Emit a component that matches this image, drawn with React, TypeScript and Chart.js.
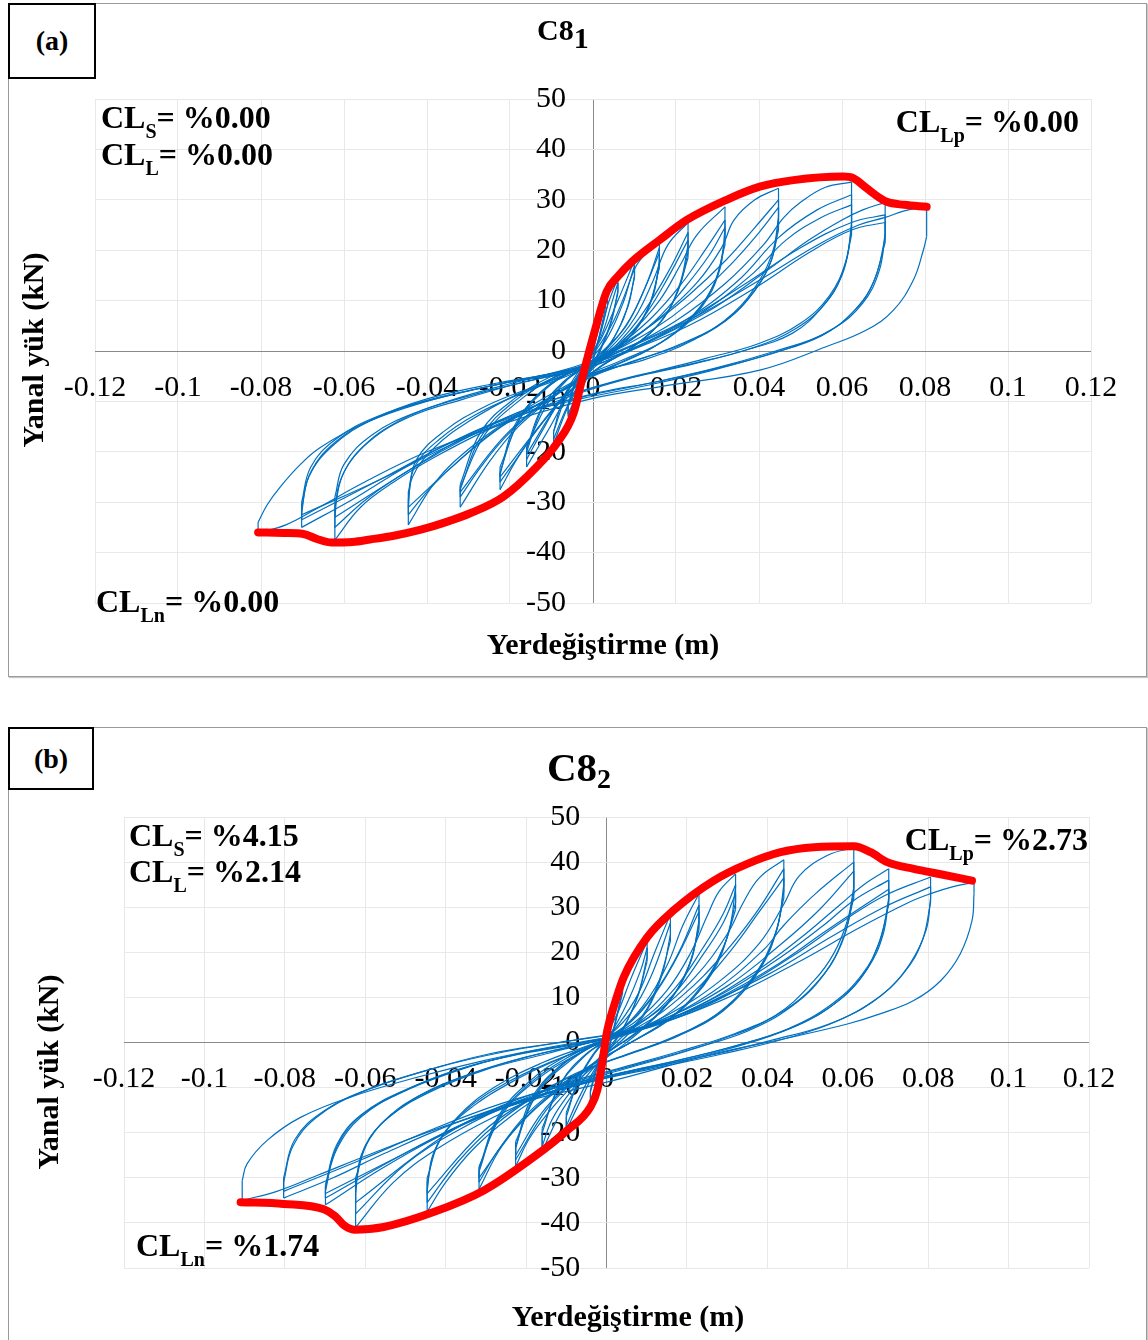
import React, { useEffect, useRef } from 'react';
import { Chart, registerables } from 'chart.js';

Chart.register(...registerables);

type P = [number, number];

// ---------- axis ticks ----------
const X_TICKS = [-0.12, -0.1, -0.08, -0.06, -0.04, -0.02, 0, 0.02, 0.04, 0.06, 0.08, 0.1, 0.12];
const X_TICK_LABELS = ['-0.12', '-0.1', '-0.08', '-0.06', '-0.04', '-0.02', '0', '0.02', '0.04', '0.06', '0.08', '0.1', '0.12'];
const Y_TICKS = [-50, -40, -30, -20, -10, 0, 10, 20, 30, 40, 50];
const Y_TICK_LABELS = ['-50', '-40', '-30', '-20', '-10', '0', '10', '20', '30', '40', '50'];

// ---------- texts ----------
const TITLE_A = ['C8', '1'];
const TITLE_B = ['C8', '2'];
const CL_SUBS = ['S', 'L', 'Lp', 'Ln'];
const CL_VALUES_A = ['%0.00', '%0.00', '%0.00', '%0.00'];
const CL_VALUES_B = ['%4.15', '%2.14', '%2.73', '%1.74'];
const X_TITLE = 'Yerdeğiştirme (m)';
const Y_TITLE = 'Yanal yük (kN)';
const PANEL_LABELS = ['(a)', '(b)'];

// ---------- panel (a) C8_1 ----------
const ENVELOPE_A: P[] = [
  [-0.0807, -36.0], [-0.0745, -36.1], [-0.0698, -36.3], [-0.0665, -37.3], [-0.063, -38.0], [-0.058, -37.9],
  [-0.0537, -37.4], [-0.0477, -36.6], [-0.0417, -35.5], [-0.0356, -34.0], [-0.0296, -32.2], [-0.0216, -28.9],
  [-0.0136, -23.0], [-0.0087, -18.3], [-0.0047, -12.4], [-0.0023, -4.4], [0.0005, 4.2], [0.0033, 11.8],
  [0.006, 14.8], [0.0095, 17.8], [0.016, 22.0], [0.0226, 26.0], [0.0322, 30.0], [0.0402, 32.6], [0.0483, 33.9],
  [0.0603, 34.6], [0.0627, 34.3], [0.0655, 32.6], [0.0675, 31.3], [0.0708, 29.6], [0.075, 29.0], [0.0804, 28.6],
];

const LOADING_A: P[][] = [
  [[0, 0], [0.0015, 5], [0.003, 10]],
  [[-0.003, -6.5], [-0.0015, -2.5], [0, 1], [0.0015, 5], [0.0035, 11]],
  [[-0.0035, -7.5], [-0.0015, -3], [0.001, 1.5], [0.0035, 9], [0.006, 14.5]],
  [[-0.006, -11], [-0.004, -6], [-0.0015, -2], [0.002, 3], [0.0045, 9.5], [0.006, 13.5]],
  [[-0.006, -10.5], [-0.004, -5.5], [-0.0015, -2], [0.002, 2.5], [0.006, 10], [0.01, 18]],
  [[-0.0095, -16], [-0.007, -9], [-0.003, -3.5], [0.001, 0.5], [0.005, 6], [0.0085, 13], [0.01, 17]],
  [[-0.0095, -16], [-0.006, -8], [-0.002, -3], [0.003, 2], [0.007, 9], [0.0105, 17], [0.016, 22]],
  [[-0.016, -20], [-0.012, -11], [-0.007, -6], [-0.002, -3], [0.004, 1], [0.009, 6.5], [0.013, 13.5], [0.016, 20.5]],
  [[-0.016, -19.5], [-0.0125, -11.5], [-0.0075, -6.5], [-0.0025, -3.5], [0.003, 0.5], [0.008, 5], [0.012, 11.5], [0.016, 19.5]],
  [[-0.016, -19], [-0.011, -10.5], [-0.006, -5.5], [-0.002, -3], [0.004, 0.5], [0.01, 6.5], [0.0145, 14], [0.018, 21], [0.0229, 25.5]],
  [[-0.0224, -24], [-0.018, -14], [-0.012, -8], [-0.005, -4], [0, -2.5], [0.006, 1.5], [0.012, 7.5], [0.018, 15.5], [0.0229, 23.5]],
  [[-0.0224, -24.5], [-0.019, -15], [-0.013, -8.5], [-0.006, -4.5], [0, -2.5], [0.006, 1], [0.012, 6.5], [0.017, 13], [0.0229, 22]],
  [[-0.0224, -23], [-0.017, -12.5], [-0.011, -7], [-0.004, -3.5], [0.002, -1], [0.009, 3.5], [0.016, 10], [0.021, 17], [0.025, 23], [0.0318, 28.6]],
  [[-0.032, -27.5], [-0.027, -17], [-0.019, -10], [-0.01, -5.5], [-0.002, -3], [0.006, 1], [0.014, 6.5], [0.021, 13], [0.027, 20], [0.0318, 26]],
  [[-0.032, -26.5], [-0.027, -16], [-0.019, -9.5], [-0.01, -5], [-0.002, -3], [0.007, 1], [0.015, 6], [0.022, 12.5], [0.028, 19], [0.0318, 24.5]],
  [[-0.032, -27], [-0.026, -16.5], [-0.018, -10], [-0.009, -5], [-0.002, -3], [0.007, 1], [0.016, 6.5], [0.025, 13.5], [0.031, 20.5], [0.034, 26], [0.039, 30], [0.0447, 32.3]],
  [[-0.0445, -31], [-0.0435, -25], [-0.038, -19], [-0.03, -14], [-0.018, -8.5], [-0.006, -4.5], [0.003, -0.5], [0.013, 4.5], [0.023, 11], [0.032, 18], [0.039, 24.5], [0.0447, 30]],
  [[-0.0445, -29.5], [-0.043, -23], [-0.037, -17.5], [-0.028, -12.5], [-0.016, -8], [-0.005, -4.5], [0.004, -0.5], [0.014, 4], [0.024, 10], [0.033, 17], [0.04, 23.5], [0.0447, 28.5]],
  [[-0.0445, -28], [-0.0425, -21.5], [-0.036, -16], [-0.026, -11], [-0.014, -7], [-0.003, -3.5], [0.008, 0.5], [0.02, 6], [0.032, 13.5], [0.041, 21], [0.046, 26.5], [0.05, 29.5], [0.056, 32.5], [0.0623, 33.5]],
  [[-0.0622, -33], [-0.061, -26], [-0.056, -19.5], [-0.047, -14], [-0.035, -10], [-0.02, -6.5], [-0.005, -3.5], [0.008, 0], [0.022, 6], [0.035, 14], [0.0447, 22.5], [0.054, 28], [0.0623, 31]],
  [[-0.0622, -31], [-0.06, -24], [-0.054, -18], [-0.044, -13], [-0.031, -9.5], [-0.016, -6], [-0.002, -3.5], [0.011, 1], [0.025, 7], [0.038, 15], [0.0465, 22], [0.055, 26.5], [0.0623, 29]],
  [[-0.0622, -29], [-0.06, -22.5], [-0.053, -16.5], [-0.042, -12], [-0.028, -8.5], [-0.013, -5.5], [0, -3], [0.014, 2], [0.029, 8.5], [0.042, 16], [0.052, 22], [0.06, 26], [0.065, 28], [0.0704, 29.5]],
  [[-0.0702, -32], [-0.0685, -25], [-0.063, -19], [-0.054, -14], [-0.041, -10], [-0.025, -7], [-0.008, -4], [0.006, 0], [0.022, 6], [0.037, 13.5], [0.05, 20.5], [0.0623, 25.5], [0.0704, 27]],
  [[-0.0702, -31], [-0.068, -24], [-0.062, -18], [-0.053, -13.5], [-0.04, -9.5], [-0.024, -6.5], [-0.007, -4], [0.007, -0.5], [0.023, 5], [0.039, 12.5], [0.052, 19.5], [0.0623, 24], [0.0704, 25.5]],
  [[-0.0702, -30], [-0.068, -23], [-0.062, -17.5], [-0.052, -13], [-0.038, -9.5], [-0.022, -6.5], [-0.006, -4], [0.008, 0.5], [0.024, 6.5], [0.04, 14], [0.054, 21], [0.064, 25], [0.0704, 26.5], [0.075, 27.8], [0.0804, 28.6]],
  [[-0.0807, -34], [-0.0785, -30.5], [-0.0754, -27], [-0.0705, -22.5], [-0.0658, -19.2], [-0.0553, -14.4], [-0.0417, -10.4], [-0.0256, -7.1], [-0.0096, -4.4], [-0.0015, -3.1]],
];

const UNLOADING_A: P[][] = [
  [[0.003, 8.5], [0.0015, 3], [0, -2], [-0.0015, -5], [-0.003, -8]],
  [[0.0035, 9], [0.002, 4], [0, -1.5], [-0.002, -6], [-0.0035, -9]],
  [[0.006, 12], [0.0045, 6], [0.002, 0.5], [0, -3], [-0.003, -8], [-0.006, -13]],
  [[0.006, 11.5], [0.004, 5], [0.0015, 0], [-0.002, -5.5], [-0.006, -12.5]],
  [[0.01, 15], [0.0085, 9], [0.006, 4], [0.002, -1], [-0.002, -5], [-0.006, -11], [-0.0095, -18.5]],
  [[0.01, 14.5], [0.008, 8], [0.005, 2.5], [0.001, -2], [-0.003, -6], [-0.0065, -11.5], [-0.0095, -17.5]],
  [[0.016, 18], [0.0145, 11], [0.011, 5], [0.006, 0.5], [0, -3.5], [-0.006, -9], [-0.011, -16], [-0.016, -23]],
  [[0.016, 17], [0.014, 10], [0.01, 4], [0.004, -0.5], [-0.002, -4], [-0.008, -10], [-0.012, -15.5], [-0.016, -21.5]],
  [[0.016, 16.5], [0.0135, 9], [0.0095, 3.5], [0.0035, -1], [-0.0025, -4.5], [-0.0085, -10.5], [-0.016, -20.5]],
  [[0.0229, 21], [0.021, 13.5], [0.017, 6.5], [0.01, 1], [0.003, -2.5], [-0.005, -7.5], [-0.012, -14], [-0.018, -21], [-0.0224, -27.5]],
  [[0.0229, 19.5], [0.0205, 12], [0.016, 5.5], [0.009, 0.5], [0.002, -3], [-0.006, -8.5], [-0.013, -15], [-0.0185, -21.5], [-0.0224, -26]],
  [[0.0229, 18.5], [0.02, 11], [0.0155, 5], [0.008, 0], [0.001, -3.5], [-0.007, -9], [-0.0135, -15.5], [-0.0224, -25]],
  [[0.0318, 24], [0.0305, 16], [0.026, 8.5], [0.018, 2.5], [0.008, -1.5], [-0.002, -5], [-0.01, -9.5], [-0.018, -15], [-0.025, -22], [-0.032, -31]],
  [[0.0318, 22], [0.0295, 14], [0.024, 7], [0.016, 1.5], [0.006, -2.5], [-0.004, -6], [-0.013, -11], [-0.021, -17], [-0.027, -23], [-0.032, -29]],
  [[0.0318, 21], [0.029, 13], [0.0235, 6.5], [0.015, 1], [0.005, -3], [-0.005, -6.5], [-0.014, -11.5], [-0.022, -17.5], [-0.032, -28]],
  [[0.0447, 26.6], [0.0434, 20], [0.0402, 14.1], [0.0338, 7.5], [0.0242, 2.2], [0.0121, -1.8], [0, -4.4], [-0.01, -8.5], [-0.02, -13.5], [-0.03, -19.5], [-0.038, -26], [-0.0445, -34.5]],
  [[0.0447, 25], [0.043, 18], [0.039, 12], [0.032, 6], [0.022, 1.5], [0.01, -2], [0, -5], [-0.011, -9.5], [-0.022, -15], [-0.032, -21.5], [-0.039, -27], [-0.0445, -32.5]],
  [[0.0447, 24], [0.0425, 17], [0.038, 11], [0.031, 5.5], [0.02, 1], [0.008, -2.5], [-0.002, -5.5], [-0.013, -10.5], [-0.024, -16], [-0.034, -23], [-0.0445, -31]],
  [[0.0623, 25.4], [0.061, 18], [0.057, 11], [0.05, 5.5], [0.04, 1.5], [0.027, -1.5], [0.013, -4.5], [0, -7.5], [-0.012, -11], [-0.025, -15.5], [-0.038, -21], [-0.048, -26], [-0.056, -31], [-0.0622, -37.5]],
  [[0.0623, 24], [0.0605, 16.5], [0.0565, 10], [0.049, 4.5], [0.038, 0.5], [0.024, -2.5], [0.01, -5], [-0.003, -8], [-0.016, -11.5], [-0.03, -17], [-0.043, -23], [-0.054, -29], [-0.0622, -35]],
  [[0.0623, 23], [0.06, 15], [0.0555, 9], [0.048, 3.5], [0.036, 0], [0.022, -3], [0.008, -5.5], [-0.005, -8.5], [-0.019, -12.5], [-0.033, -18], [-0.046, -24.5], [-0.0622, -33]],
  [[0.0704, 23.4], [0.069, 16], [0.065, 9.5], [0.058, 4.5], [0.047, 0.5], [0.032, -3], [0.016, -6], [0, -8.5], [-0.015, -12], [-0.03, -17], [-0.045, -23], [-0.057, -29], [-0.0702, -35]],
  [[0.0704, 22.5], [0.068, 14.5], [0.0635, 8.5], [0.056, 3.5], [0.044, 0], [0.029, -3.5], [0.013, -6.5], [-0.002, -9], [-0.018, -12.5], [-0.034, -18], [-0.049, -24.5], [-0.0702, -33.5]],
  [[0.0704, 21.5], [0.0675, 13.5], [0.063, 8], [0.055, 3], [0.043, -0.5], [0.028, -4], [0.012, -7], [-0.003, -9.5], [-0.019, -13], [-0.035, -18.5], [-0.05, -25], [-0.0702, -32.5]],
  [[0.0804, 22.7], [0.0796, 20], [0.0772, 14.1], [0.0724, 8.1], [0.066, 4.2], [0.0563, 0.9], [0.0402, -3.8], [0.016, -7.1], [0, -9.4], [-0.02, -14], [-0.04, -20], [-0.055, -26], [-0.066, -31], [-0.074, -34.5], [-0.0807, -36]],
];

// ---------- panel (b) C8_2 ----------
const ENVELOPE_B: P[] = [
  [-0.091, -35.4], [-0.0803, -35.8], [-0.0703, -37.0], [-0.0675, -38.5], [-0.0652, -40.6], [-0.0628, -41.5],
  [-0.0554, -40.9], [-0.043, -37.6], [-0.0305, -32.8], [-0.0181, -25.4], [-0.0098, -19.5], [-0.004, -14.3],
  [-0.0023, -10.6], [-0.0011, -4.7], [0.0002, 2.7], [0.002, 8.5], [0.0043, 14.5], [0.0101, 23.3], [0.0167, 29.3],
  [0.0267, 35.9], [0.035, 39.6], [0.0433, 42.2], [0.0516, 43.3], [0.0615, 43.5], [0.0657, 42.2], [0.0698, 40.0],
  [0.0764, 38.5], [0.0831, 37.3], [0.0909, 35.9],
];

const LOADING_B: P[][] = [
  [[0, 0], [0.002, 7.5], [0.004, 14]],
  [[-0.004, -11], [-0.002, -4.5], [0, 1.5], [0.002, 7], [0.004, 13]],
  [[-0.004, -10.5], [-0.002, -4], [0, 1.5], [0.003, 7], [0.006, 14], [0.0101, 22.5]],
  [[-0.01, -16.5], [-0.007, -8.5], [-0.003, -2.5], [0.001, 2], [0.005, 8.5], [0.0085, 16], [0.0101, 21]],
  [[-0.01, -15.5], [-0.006, -6.5], [-0.002, -1], [0.003, 4], [0.008, 11], [0.012, 20], [0.0159, 28.5]],
  [[-0.016, -20], [-0.012, -10], [-0.006, -3.5], [0, 1], [0.006, 6.5], [0.011, 14.5], [0.0159, 26.5]],
  [[-0.016, -19], [-0.011, -8.5], [-0.005, -2.5], [0.002, 1.5], [0.009, 8], [0.015, 17], [0.019, 26], [0.023, 33]],
  [[-0.0226, -23], [-0.018, -12], [-0.011, -5], [-0.003, -0.5], [0.005, 4], [0.012, 11], [0.018, 20], [0.023, 30.5]],
  [[-0.0226, -23.5], [-0.019, -13], [-0.012, -5.5], [-0.004, -1], [0.004, 3], [0.011, 9.5], [0.017, 18], [0.023, 29]],
  [[-0.0226, -22], [-0.017, -11], [-0.009, -4], [-0.001, 0.5], [0.007, 4.5], [0.015, 11.5], [0.021, 20], [0.025, 28], [0.028, 33.5], [0.0321, 37.4]],
  [[-0.0317, -28.6], [-0.027, -17], [-0.019, -9], [-0.01, -3.5], [-0.001, 0.5], [0.008, 4.5], [0.017, 12], [0.024, 21], [0.029, 28.5], [0.0321, 35]],
  [[-0.0317, -28], [-0.027, -16.5], [-0.019, -8.5], [-0.01, -3], [-0.001, 0.5], [0.008, 4], [0.017, 11], [0.024, 19.5], [0.029, 26.5], [0.0321, 33]],
  [[-0.0317, -27.5], [-0.026, -16], [-0.017, -8], [-0.007, -2.5], [0.002, 1.5], [0.012, 6.5], [0.022, 14.5], [0.03, 24], [0.034, 31], [0.038, 36.5], [0.0441, 40.5]],
  [[-0.0446, -32.8], [-0.043, -24.5], [-0.037, -16.5], [-0.028, -10], [-0.016, -4.5], [-0.004, -0.5], [0.008, 3.5], [0.019, 10.5], [0.029, 19.5], [0.037, 28.5], [0.0441, 38.5]],
  [[-0.0446, -31], [-0.042, -22.5], [-0.035, -15], [-0.025, -9], [-0.013, -4], [-0.001, 0], [0.011, 4], [0.022, 11.5], [0.031, 20.5], [0.038, 29], [0.0441, 36.5]],
  [[-0.0446, -30], [-0.041, -21], [-0.033, -14], [-0.022, -8], [-0.01, -3], [0.002, 1], [0.015, 6], [0.028, 13.5], [0.038, 22], [0.044, 30.5], [0.048, 37], [0.055, 41.5], [0.0615, 43.2]],
  [[-0.0624, -33.5], [-0.061, -25], [-0.056, -18], [-0.047, -12], [-0.034, -7], [-0.019, -3], [-0.004, 0], [0.011, 4], [0.026, 11], [0.039, 20.5], [0.0441, 26], [0.052, 33], [0.0615, 40]],
  [[-0.0624, -31.5], [-0.06, -23], [-0.054, -16.5], [-0.044, -11], [-0.03, -6], [-0.015, -2.5], [0, 1], [0.015, 5.5], [0.03, 12.5], [0.043, 21.5], [0.053, 29.5], [0.0615, 38]],
  [[-0.0624, -30], [-0.059, -21.5], [-0.052, -15], [-0.041, -9.5], [-0.027, -5], [-0.012, -1.5], [0.003, 1.5], [0.019, 6.5], [0.035, 14.5], [0.048, 23], [0.058, 30.5], [0.064, 35], [0.0702, 38.5]],
  [[-0.0699, -33], [-0.0675, -24], [-0.062, -17], [-0.052, -11.5], [-0.038, -6.5], [-0.022, -2.5], [-0.006, 0], [0.01, 3.5], [0.026, 9.5], [0.041, 17.5], [0.054, 26], [0.0615, 31.5], [0.0702, 36]],
  [[-0.0699, -32], [-0.067, -23.5], [-0.061, -16.5], [-0.051, -11], [-0.037, -6], [-0.021, -2.5], [-0.005, 0], [0.011, 3.5], [0.027, 9.5], [0.042, 17], [0.055, 25], [0.0702, 34]],
  [[-0.0699, -31.5], [-0.067, -22.5], [-0.061, -16], [-0.05, -10.5], [-0.035, -5.5], [-0.019, -2], [-0.003, 0.5], [0.013, 4], [0.03, 10.5], [0.046, 19], [0.059, 27], [0.069, 32.5], [0.0806, 36.7]],
  [[-0.0803, -31], [-0.078, -23], [-0.072, -16.5], [-0.061, -11], [-0.046, -6.5], [-0.029, -2.5], [-0.012, 0], [0.005, 2.5], [0.022, 7.5], [0.04, 15], [0.056, 23.5], [0.069, 30], [0.0806, 34.5]],
  [[-0.0803, -30], [-0.0775, -21.5], [-0.07, -15], [-0.058, -10], [-0.042, -5.5], [-0.025, -2], [-0.008, 0.5], [0.01, 3.5], [0.029, 9.5], [0.047, 17.5], [0.063, 25.5], [0.075, 31], [0.0806, 33], [0.086, 34.5], [0.0914, 35.5]],
  [[-0.0906, -30.6], [-0.0894, -26.9], [-0.0844, -21.7], [-0.0761, -16.6], [-0.0637, -12.1], [-0.0471, -7.7], [-0.0305, -4], [-0.0139, -1], [-0.0015, 0.8]],
];

const UNLOADING_B: P[][] = [
  [[0.004, 11.5], [0.002, 4], [0, -3], [-0.002, -8.5], [-0.004, -14]],
  [[0.004, 11], [0.002, 3.5], [0, -3.5], [-0.002, -9], [-0.004, -13.5]],
  [[0.0101, 19], [0.008, 11], [0.005, 4.5], [0.002, 0], [-0.002, -5], [-0.006, -12], [-0.01, -19.5]],
  [[0.0101, 18], [0.0075, 9.5], [0.004, 3], [0, -2], [-0.004, -7.5], [-0.007, -12.5], [-0.01, -18.5]],
  [[0.0159, 24], [0.0138, 15], [0.01, 7], [0.005, 1.5], [0, -2.5], [-0.005, -7.5], [-0.011, -15], [-0.016, -24]],
  [[0.0159, 22.5], [0.013, 13.5], [0.009, 6], [0.003, 0.5], [-0.003, -4.5], [-0.009, -11], [-0.0135, -17], [-0.016, -23]],
  [[0.023, 27], [0.021, 18], [0.016, 9.5], [0.009, 3], [0.002, -2], [-0.006, -7.5], [-0.013, -14], [-0.019, -21], [-0.0226, -27.5]],
  [[0.023, 26], [0.0205, 17], [0.015, 8.5], [0.008, 2.5], [0, -2.5], [-0.008, -8.5], [-0.015, -15], [-0.0226, -26]],
  [[0.023, 25], [0.02, 16], [0.0145, 8], [0.007, 2], [-0.001, -3], [-0.009, -9], [-0.016, -15.5], [-0.0226, -25]],
  [[0.0321, 34.5], [0.0305, 25], [0.026, 15], [0.018, 7], [0.009, 1.5], [0, -3], [-0.009, -8.5], [-0.018, -15], [-0.026, -23], [-0.0317, -32.5]],
  [[0.0321, 31], [0.0295, 22], [0.024, 13], [0.016, 5.5], [0.007, 0.5], [-0.002, -4], [-0.011, -9.5], [-0.02, -16.5], [-0.027, -24], [-0.0317, -31]],
  [[0.0321, 29.5], [0.029, 21], [0.0235, 12], [0.0155, 5], [0.006, 0], [-0.003, -4.5], [-0.012, -10], [-0.021, -17], [-0.0317, -30]],
  [[0.0441, 35], [0.0425, 25.5], [0.038, 16], [0.03, 8], [0.02, 2.5], [0.009, -1.5], [-0.002, -5], [-0.013, -10], [-0.024, -16.5], [-0.033, -23.5], [-0.04, -31], [-0.0446, -37.5]],
  [[0.0441, 33.5], [0.042, 24], [0.037, 15], [0.029, 7], [0.018, 1.5], [0.006, -2.5], [-0.005, -6], [-0.017, -11.5], [-0.028, -18.5], [-0.037, -26.5], [-0.0446, -35.5]],
  [[0.0441, 32], [0.0415, 23], [0.036, 14], [0.027, 6], [0.016, 1], [0.004, -3], [-0.008, -7], [-0.02, -13], [-0.031, -20], [-0.0446, -33.5]],
  [[0.0615, 34.4], [0.0599, 27], [0.0565, 19.7], [0.0516, 13.7], [0.042, 6], [0.028, 0.5], [0.012, -4], [0, -7], [-0.014, -11], [-0.028, -16.5], [-0.042, -23.5], [-0.053, -31], [-0.0624, -41]],
  [[0.0615, 33], [0.059, 23.5], [0.054, 15], [0.046, 8], [0.035, 2.5], [0.021, -1.5], [0.007, -5], [-0.007, -8.5], [-0.022, -13], [-0.037, -19.5], [-0.05, -27], [-0.0624, -38]],
  [[0.0615, 32], [0.0585, 22], [0.053, 14], [0.044, 7], [0.032, 2], [0.018, -2], [0.004, -5.5], [-0.01, -9], [-0.026, -14], [-0.041, -21], [-0.0624, -35.5]],
  [[0.0702, 32.2], [0.0688, 24], [0.065, 16.5], [0.058, 9.5], [0.048, 4], [0.035, 0], [0.02, -3.5], [0.005, -6.5], [-0.01, -10], [-0.026, -14.5], [-0.042, -21], [-0.056, -28], [-0.0699, -36]],
  [[0.0702, 31.5], [0.068, 22.5], [0.0635, 15], [0.056, 8.5], [0.045, 3], [0.031, -1], [0.015, -4.5], [0, -7.5], [-0.016, -11.5], [-0.033, -17], [-0.049, -24], [-0.0699, -34.5]],
  [[0.0702, 30.5], [0.0675, 21.5], [0.063, 14], [0.055, 7.5], [0.044, 2.5], [0.03, -1.5], [0.014, -5], [-0.001, -8], [-0.017, -12], [-0.034, -17.5], [-0.05, -24.5], [-0.0699, -33.5]],
  [[0.0806, 32], [0.0795, 25], [0.0755, 17.5], [0.0685, 10.5], [0.058, 5], [0.045, 1], [0.029, -2.5], [0.013, -5.5], [-0.003, -8.5], [-0.02, -12.5], [-0.038, -18], [-0.055, -24.5], [-0.068, -30], [-0.0803, -34.5]],
  [[0.0806, 31], [0.0785, 22.5], [0.074, 15.5], [0.066, 9], [0.055, 4], [0.041, 0.5], [0.025, -3], [0.008, -6], [-0.008, -9], [-0.026, -13.5], [-0.044, -19.5], [-0.061, -26], [-0.0803, -33]],
  [[0.0914, 33], [0.0909, 27], [0.088, 19.7], [0.0831, 13.7], [0.0764, 9.3], [0.0682, 6.4], [0.0599, 4.1], [0.045, 1], [0.0267, -2.5], [0.0018, -8.4], [-0.02, -13], [-0.04, -18.5], [-0.058, -24.5], [-0.072, -29.5], [-0.082, -33], [-0.0906, -35]],
];

// ---------- helpers ----------
const FONT = '"Liberation Serif", "Times New Roman", serif';
const BLUE = '#0070C0';
const RED = '#FF0000';

type Part = { t: string; size: number; dy?: number };
type RichText = { x: number; y: number; align: 'left' | 'right' | 'center'; rotate?: boolean; parts: Part[] };

const toXY = (pts: P[]) => pts.map(([x, y]) => ({ x, y }));

function buildDatasets(env: P[], up: P[][], dn: P[][]) {
  const ds: any[] = [];
  ds.push({
    data: toXY(env), showLine: true, borderColor: RED, backgroundColor: RED, borderWidth: 8,
    cubicInterpolationMode: 'monotone', pointRadius: 0, order: 0,
    borderCapStyle: 'round', borderJoinStyle: 'round',
  });
  const blue = (pts: P[]) => ({
    data: toXY(pts), showLine: true, borderColor: BLUE, backgroundColor: BLUE, borderWidth: 1.2,
    tension: 0.4, pointRadius: 0, order: 1,
  });
  for (let i = 0; i < up.length; i++) {
    const u = up[i];
    ds.push(blue(u));
    const d = dn[i];
    if (d) {
      ds.push(blue([u[u.length - 1], d[0]]));
      ds.push(blue(d));
      if (up[i + 1]) ds.push(blue([d[d.length - 1], up[i + 1][0]]));
    }
  }
  return ds;
}

function clParts(sub: string, value: string): Part[] {
  return [
    { t: 'CL', size: 32 },
    { t: sub, size: 20, dy: 10 },
    { t: '= ' + value, size: 32 },
  ];
}

function makeTextPlugin(items: RichText[]) {
  return {
    id: 'richText',
    afterDraw(chart: any) {
      const ctx: CanvasRenderingContext2D = chart.ctx;
      for (const it of items) {
        ctx.save();
        ctx.fillStyle = '#000';
        ctx.textBaseline = 'alphabetic';
        ctx.textAlign = 'left';
        let total = 0;
        for (const p of it.parts) {
          ctx.font = `bold ${p.size}px ${FONT}`;
          total += ctx.measureText(p.t).width;
        }
        ctx.translate(it.x, it.y);
        if (it.rotate) ctx.rotate(-Math.PI / 2);
        let x0 = it.align === 'left' ? 0 : it.align === 'right' ? -total : -total / 2;
        for (const p of it.parts) {
          ctx.font = `bold ${p.size}px ${FONT}`;
          ctx.fillText(p.t, x0, p.dy || 0);
          x0 += ctx.measureText(p.t).width;
        }
        ctx.restore();
      }
    },
  };
}

function makeConfig(datasets: any[], padding: any, labelAxisX: number, texts: RichText[]) {
  const gridColor = (c: any) => (c.tick && c.tick.value === 0 ? '#8a8a8a' : '#e8e8e8');
  return {
    type: 'scatter' as const,
    data: { datasets },
    options: {
      animation: false,
      responsive: false,
      maintainAspectRatio: false,
      devicePixelRatio: 1,
      layout: { padding },
      plugins: { legend: { display: false }, tooltip: { enabled: false }, title: { display: false } },
      events: [],
      scales: {
        x: {
          type: 'linear', axis: 'x', min: -0.12, max: 0.12, position: { y: 0 },
          afterBuildTicks: (s: any) => { s.ticks = X_TICKS.map((v) => ({ value: v })); },
          afterFit: (s: any) => { s.height = 0; },
          grid: { color: gridColor, drawTicks: false, lineWidth: 1 },
          border: { display: false },
          ticks: {
            callback: (_v: any, i: number) => X_TICK_LABELS[i],
            font: { family: FONT, size: 30 }, color: '#000', padding: 19,
            maxRotation: 0, minRotation: 0, autoSkip: false,
          },
        },
        y: {
          type: 'linear', axis: 'y', min: -50, max: 50, position: { x: 0 },
          afterBuildTicks: (s: any) => { s.ticks = Y_TICKS.map((v) => ({ value: v })); },
          afterFit: (s: any) => { s.width = 0; },
          grid: { color: gridColor, drawTicks: false, lineWidth: 1 },
          border: { display: false },
          ticks: { display: false },
        },
        ylab: {
          type: 'linear', axis: 'y', min: -50, max: 50, position: { x: labelAxisX },
          afterBuildTicks: (s: any) => { s.ticks = Y_TICKS.map((v) => ({ value: v })); },
          afterFit: (s: any) => { s.width = 0; },
          grid: { display: false, drawTicks: false },
          border: { display: false },
          ticks: {
            callback: (_v: any, i: number) => Y_TICK_LABELS[i],
            font: { family: FONT, size: 30 }, color: '#000', padding: 0, autoSkip: false,
          },
        },
      },
    },
    plugins: [makeTextPlugin(texts)],
  };
}

function ChartCanvas({ top, height, config }: { top: number; height: number; config: any }) {
  const ref = useRef<HTMLCanvasElement>(null);
  useEffect(() => {
    const chart = new Chart(ref.current as HTMLCanvasElement, config);
    return () => chart.destroy();
  }, []);
  return (
    <canvas
      ref={ref}
      width={1148}
      height={height}
      style={{ position: 'absolute', left: 0, top, width: 1148, height, display: 'block' }}
    />
  );
}

const textsA: RichText[] = [
  { x: 537, y: 40, align: 'left', parts: [{ t: TITLE_A[0], size: 30 }, { t: TITLE_A[1], size: 30, dy: 8 }] },
  { x: 101, y: 128, align: 'left', parts: clParts(CL_SUBS[0], CL_VALUES_A[0]) },
  { x: 101, y: 165, align: 'left', parts: clParts(CL_SUBS[1], CL_VALUES_A[1]) },
  { x: 1079, y: 132, align: 'right', parts: clParts(CL_SUBS[2], CL_VALUES_A[2]) },
  { x: 96, y: 612, align: 'left', parts: clParts(CL_SUBS[3], CL_VALUES_A[3]) },
  { x: 603, y: 654, align: 'center', parts: [{ t: X_TITLE, size: 30 }] },
  { x: 43, y: 350, align: 'center', rotate: true, parts: [{ t: Y_TITLE, size: 30 }] },
];

const B_TOP = 700;
const textsB: RichText[] = [
  { x: 547, y: 781 - B_TOP, align: 'left', parts: [{ t: TITLE_B[0], size: 41 }, { t: TITLE_B[1], size: 28, dy: 7 }] },
  { x: 129, y: 846 - B_TOP, align: 'left', parts: clParts(CL_SUBS[0], CL_VALUES_B[0]) },
  { x: 129, y: 882 - B_TOP, align: 'left', parts: clParts(CL_SUBS[1], CL_VALUES_B[1]) },
  { x: 1088, y: 850 - B_TOP, align: 'right', parts: clParts(CL_SUBS[2], CL_VALUES_B[2]) },
  { x: 136, y: 1256 - B_TOP, align: 'left', parts: clParts(CL_SUBS[3], CL_VALUES_B[3]) },
  { x: 628, y: 1326 - B_TOP, align: 'center', parts: [{ t: X_TITLE, size: 30 }] },
  { x: 58, y: 1072 - B_TOP, align: 'center', rotate: true, parts: [{ t: Y_TITLE, size: 30 }] },
];

const configA = makeConfig(
  buildDatasets(ENVELOPE_A, LOADING_A, UNLOADING_A),
  { left: 95, right: 57, top: 99, bottom: 87 },
  -0.0065,
  textsA,
);
const configB = makeConfig(
  buildDatasets(ENVELOPE_B, LOADING_B, UNLOADING_B),
  { left: 124, right: 59, top: 117, bottom: 72 },
  -0.0065,
  textsB,
);

const boxStyle = (left: number, top: number, w: number, h: number): React.CSSProperties => ({
  position: 'absolute', left, top, width: w, height: h, boxSizing: 'border-box',
  border: '2px solid #000', background: '#fff', display: 'flex', alignItems: 'center',
  justifyContent: 'center', fontFamily: FONT, fontWeight: 'bold', fontSize: 28, color: '#000',
});

const panelStyle = (top: number, h: number): React.CSSProperties => ({
  position: 'absolute', left: 8, top, width: 1139, height: h, boxSizing: 'border-box',
  border: '1px solid #9a9a9a', boxShadow: '1px 1px 1px #c8c8c8', background: '#fff',
});

export default function App() {
  return (
    <div style={{ position: 'absolute', left: 0, top: 0, width: 1148, height: 1340, overflow: 'hidden', background: '#fff' }}>
      <div style={panelStyle(3, 674)} />
      <div style={panelStyle(727, 640)} />
      <ChartCanvas top={0} height={690} config={configA} />
      <ChartCanvas top={B_TOP} height={640} config={configB} />
      <div style={boxStyle(8, 3, 88, 76)}>{PANEL_LABELS[0]}</div>
      <div style={boxStyle(8, 727, 86, 63)}>{PANEL_LABELS[1]}</div>
    </div>
  );
}
